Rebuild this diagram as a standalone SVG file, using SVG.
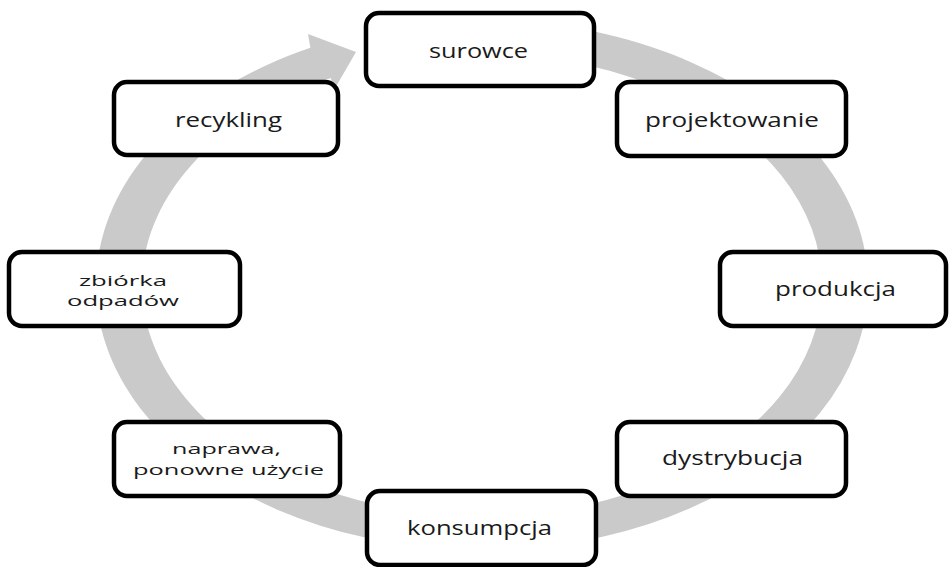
<svg xmlns="http://www.w3.org/2000/svg" width="950" height="567" viewBox="0 0 950 567">
<style>
.box{fill:#ffffff;stroke:#000000;stroke-width:4.5}
.lbl{font-family:"Open Sans","Noto Sans","DejaVu Sans",sans-serif;font-size:20px;fill:#1a1a1a}
.lbl2{font-family:"Open Sans","Noto Sans","DejaVu Sans",sans-serif;font-size:15px;fill:#1a1a1a}
.ring{fill:#c9cac9;stroke:none}
</style>
<rect width="950" height="567" fill="#ffffff"/>
<g id="connectors">
<path class="ring" d="M 414.97 24.03 A 386 265 0 1 1 310.37 47.64 L 308 34 L 356 52 L 334 90 L 330.82 78.09 A 340 231 0 1 0 422.96 57.51 Z"/>
</g>
<g id="node-surowce">
<rect class="box" x="366" y="13" width="228" height="73" rx="13"/>
<text class="lbl" x="429" y="58" textLength="99" lengthAdjust="spacingAndGlyphs">surowce</text>
</g>
<g id="node-projektowanie">
<rect class="box" x="617" y="82" width="229" height="74" rx="13"/>
<text class="lbl" x="645" y="127" textLength="174" lengthAdjust="spacingAndGlyphs">projektowanie</text>
</g>
<g id="node-produkcja">
<rect class="box" x="720" y="252" width="226" height="74" rx="13"/>
<text class="lbl" x="775" y="296" textLength="121" lengthAdjust="spacingAndGlyphs">produkcja</text>
</g>
<g id="node-dystrybucja">
<rect class="box" x="617" y="422" width="229" height="74" rx="13"/>
<text class="lbl" x="662" y="465" textLength="141" lengthAdjust="spacingAndGlyphs">dystrybucja</text>
</g>
<g id="node-konsumpcja">
<rect class="box" x="367" y="491" width="229" height="74" rx="13"/>
<text class="lbl" x="407" y="535" textLength="145" lengthAdjust="spacingAndGlyphs">konsumpcja</text>
</g>
<g id="node-naprawa">
<rect class="box" x="114" y="422" width="226" height="74" rx="13"/>
<text class="lbl2"><tspan x="172" y="454" textLength="109" lengthAdjust="spacingAndGlyphs">naprawa,</tspan><tspan x="133" y="474.5" textLength="191" lengthAdjust="spacingAndGlyphs">ponowne użycie</tspan></text>
</g>
<g id="node-zbiorka">
<rect class="box" x="9" y="252" width="231" height="74" rx="13"/>
<text class="lbl2"><tspan x="79" y="285.5" textLength="88" lengthAdjust="spacingAndGlyphs">zbiórka</tspan><tspan x="67" y="306" textLength="112" lengthAdjust="spacingAndGlyphs">odpadów</tspan></text>
</g>
<g id="node-recykling">
<rect class="box" x="114" y="82" width="224" height="73" rx="13"/>
<text class="lbl" x="175" y="127" textLength="107" lengthAdjust="spacingAndGlyphs">recykling</text>
</g>
</svg>
